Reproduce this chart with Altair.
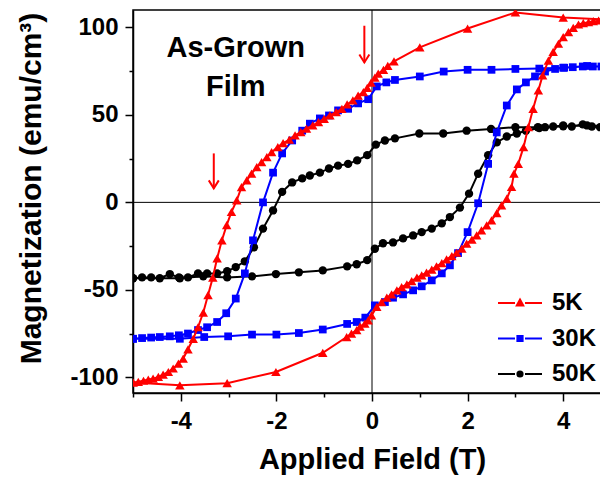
import altair as alt
import pandas as pd

# ---------------- data ----------------
series_labels = ["5K", "30K", "50K"]
series_colors = ["#ff0000", "#0000ff", "#000000"]
marker_shapes = ["triangle-up", "square", "circle"]
marker_sizes = [90, 60, 70]

# 5K (red) : branch from +5 T down to -5 T, then back up
x5_down = [5.0, 4.0, 3.0, 2.0, 1.0, 0.46, 0.33, 0.24, 0.13, 0.06, -0.02, -0.10, -0.18, -0.29,
           -0.40, -0.52, -0.63, -0.75, -0.88, -1.00, -1.12, -1.24, -1.37, -1.49, -1.61, -1.73,
           -1.86, -1.97, -2.10, -2.20, -2.31, -2.41, -2.52, -2.62, -2.73, -2.83, -2.94, -3.04,
           -3.14, -3.24, -3.33, -3.43, -3.53, -3.64, -3.74, -3.85, -3.95, -4.05, -4.16, -4.26,
           -4.37, -4.47, -4.58, -4.68, -4.78, -4.89, -5.0]
m5_down = [104.5, 105.7, 108.6, 99.4, 88.6, 80.6, 78.0, 75.8, 73.6, 71.3, 68.5, 65.5, 63.0, 61.1,
           58.3, 56.0, 53.5, 51.6, 49.7, 47.8, 45.9, 44.0, 42.1, 40.2, 38.3, 35.8,
           33.9, 31.6, 28.7, 25.9, 23.0, 20.2, 16.4, 12.6, 8.7, 1.1, -5.5, -13.0,
           -21.7, -32.0, -43.0, -53.0, -63.0, -71.4, -78.0, -84.0, -89.3, -92.2, -95.0, -97.0,
           -98.5, -99.8, -100.8, -101.3, -102.0, -102.6, -103.0]
x5_up = [-5.0, -4.02, -3.03, -2.01, -1.03, -0.53, -0.43, -0.32, -0.25, -0.15, -0.08, -0.01,
         0.10, 0.20, 0.31, 0.41, 0.52, 0.62, 0.73, 0.83, 0.94, 1.04, 1.14, 1.25, 1.35, 1.46,
         1.56, 1.67, 1.77, 1.88, 1.98, 2.09, 2.19, 2.29, 2.40, 2.50, 2.61, 2.71, 2.82, 2.92,
         2.97, 3.06, 3.17, 3.27, 3.37, 3.48, 3.57, 3.69, 3.79, 3.90, 4.00, 4.11, 4.21, 4.32,
         4.42, 4.53, 4.63, 4.74, 4.84, 5.0]
m5_up = [-103.0, -104.6, -103.4, -97.0, -86.0, -77.0, -75.0, -73.0, -71.0, -69.3, -67.5, -64.6,
         -59.8, -57.0, -54.5, -52.6, -50.3, -48.4, -46.9, -45.0, -43.0, -41.7, -40.2, -38.5, -36.6, -34.7,
         -32.6, -30.7, -28.8, -26.5, -23.6, -21.3, -18.9, -16.0, -13.1, -10.3, -6.1, -1.7, 2.1, 8.8,
         16.4, 22.0, 31.6, 43.0, 53.5, 64.0, 72.6, 81.0, 86.0, 90.7, 94.5, 97.3, 99.8, 101.7,
         102.5, 103.0, 103.6, 104.0, 104.4, 104.6]

# 30K (blue)
x30_down = [5.0, 4.5, 4.0, 3.5, 3.0, 2.5, 2.0, 1.5, 1.0, 0.48, 0.3, 0.1, -0.08, -0.29, -0.5,
            -0.71, -0.9, -1.09, -1.3, -1.46, -1.67, -1.88, -2.07, -2.28, -2.49, -2.66, -2.85,
            -3.05, -3.24, -3.45, -3.64, -3.85, -4.04, -4.23, -4.44, -4.62, -4.81, -5.0]
m30_down = [77.5, 78.0, 77.0, 76.5, 76.3, 75.8, 75.8, 74.8, 72.0, 70.0, 68.6, 66.3, 59.0, 56.6, 53.5,
            52.6, 49.7, 48.0, 45.0, 41.0, 35.4, 28.0, 17.0, 0.0, -21.7, -40.6, -55.0,
            -63.4, -68.4, -71.4, -73.0, -75.0, -76.0, -76.6, -77.0, -77.3, -77.6, -78.0]
x30_up = [-5.0, -4.02, -3.51, -3.01, -2.51, -2.0, -1.53, -1.03, -0.52, -0.32, -0.14, 0.06, 0.27,
          0.44, 0.65, 0.86, 1.04, 1.25, 1.46, 1.63, 1.8, 2.0, 2.22, 2.43, 2.61, 2.82, 3.03, 3.22,
          3.41, 3.62, 3.83, 4.02, 4.2, 4.41, 4.62, 4.8, 5.0]
m30_up = [-78.0, -78.0, -77.0, -76.6, -75.6, -75.6, -74.7, -72.7, -69.5, -68.4, -65.9, -58.9, -57.0,
          -54.5, -52.6, -50.3, -48.0, -44.6, -40.6, -36.0, -29.0, -17.0, -0.5, 22.0, 40.0, 55.4, 64.6, 68.6,
          72.0, 74.8, 76.3, 77.0, 77.3, 77.7, 77.7, 77.7, 77.7]

# 50K (black)
x50_down = [5.0, 4.77, 4.6, 4.41, 4.18, 4.0, 3.79, 3.62, 3.47, 3.0, 2.49, 1.98, 1.49, 0.99, 0.48,
            0.27, 0.08, -0.1, -0.31, -0.5, -0.71, -0.9, -1.09, -1.3, -1.46, -1.67, -1.88, -2.07,
            -2.28, -2.47, -2.66, -2.85, -3.03, -3.24, -3.45, -3.64, -3.85, -4.04, -4.23, -4.44,
            -4.62, -4.81, -5.0]
m50_down = [42.5, 43.0, 43.4, 44.6, 43.4, 44.0, 43.4, 43.0, 43.0, 43.0, 42.0, 41.0, 39.4, 39.4, 36.6,
            35.4, 33.0, 27.0, 24.0, 22.0, 21.0, 19.4, 17.0, 15.4, 13.7, 11.4, 6.0, -4.6,
            -15.0, -25.7, -33.7, -37.0, -39.4, -40.6, -40.6, -40.6, -42.9, -42.9, -41.0, -43.4,
            -42.9, -42.9, -43.4]
x50_up = [-5.0, -4.02, -3.53, -3.03, -2.51, -2.01, -1.53, -1.03, -0.52, -0.32, -0.1, 0.06, 0.23,
          0.44, 0.65, 0.86, 1.04, 1.25, 1.46, 1.63, 1.84, 2.03, 2.22, 2.43, 2.61, 2.82, 3.03, 3.22,
          3.5, 4.0, 4.5, 5.0]
m50_up = [-43.4, -43.4, -42.3, -42.9, -42.3, -41.0, -40.0, -38.9, -36.6, -35.4, -33.0, -26.5, -23.4,
          -22.9, -20.6, -18.9, -17.0, -15.0, -12.0, -8.4, -3.0, 5.0, 16.4, 27.0, 34.3, 37.7, 39.4, 41.0,
          42.5, 43.5, 44.0, 43.0]

# axes
x_ticks = [-5, -4, -3, -2, -1, 0, 1, 2, 3, 4, 5]
y_ticks = [-100, -75, -50, -25, 0, 25, 50, 75, 100]
x_domain = [-5, 5]
y_domain = [-109, 110]

# annotations
ann_text = ["As-Grown\nFilm"]
ann_x = [-2.85]
ann_y = [83]
arrow_x = [-3.31, -0.16]
arrow_from = [28, 101]
arrow_tip = [8, 80]

# ---------------- build tables ----------------
loops = {
    "5K": (x5_down + x5_up, m5_down + m5_up),
    "30K": (x30_down + x30_up, m30_down + m30_up),
    "50K": (x50_down + x50_up, m50_down + m50_up),
}
frames = {}
for lab, (xs, ms) in loops.items():
    frames[lab] = pd.DataFrame({"H": xs, "M": ms, "T": lab, "i": list(range(len(xs)))})

FONT = "Liberation Sans"
xscale = alt.Scale(domain=x_domain, nice=False, zero=False)
yscale = alt.Scale(domain=y_domain, nice=False, zero=False)

X_AXIS = alt.Axis(
    values=x_ticks, title="Applied Field (T)", grid=False,
    labelExpr="datum.value % 2 === 0 ? '' + datum.value : ''",
    tickSize={"condition": {"test": "datum.value % 2 === 0", "value": 8}, "value": 4},
    labelFlush=False, labelOverlap=False, labelPadding=8,
    titleFontSize=29,
    titleX=239, titleY=75, titleBaseline="alphabetic", titleAlign="center",
)
Y_AXIS = alt.Axis(
    values=y_ticks, title="Magnetization (emu/cm³)", grid=False,
    labelExpr="datum.value % 50 === 0 ? '' + datum.value : ''",
    tickSize={"condition": {"test": "datum.value % 50 === 0", "value": 8}, "value": 4},
    labelOverlap=False, labelPadding=7,
    titleFontSize=30,
    titleX=-93, titleY=178, titleBaseline="alphabetic", titleAlign="center", titleAngle=270,
)

def X(field):
    return alt.X(field, type="quantitative", scale=xscale, axis=X_AXIS)

def Y(field):
    return alt.Y(field, type="quantitative", scale=yscale, axis=Y_AXIS)

legend_paths = [
    "M-2.2,0H-0.5M0.5,0H2.2M0,-0.34L0.32,0.24L-0.32,0.24Z",
    "M-2.2,0H-0.5M0.5,0H2.2M-0.26,-0.26H0.26V0.26H-0.26Z",
    "M-2.2,0H-0.5M0.5,0H2.2M0.26,0A0.26,0.26,0,1,1,-0.26,0A0.26,0.26,0,1,1,0.26,0Z",
]
shape_expr = ("[" + ",".join("'%s'" % p for p in legend_paths) + "][indexof(["
              + ",".join("'%s'" % s for s in series_labels) + "], datum.value)]")

LEGEND = alt.Legend(
    title=None, orient="none", legendX=375, legendY=281, padding=0,
    symbolSize=400, labelOffset=20, rowPadding=11.5,
    labelFont=FONT, labelFontSize=24, labelFontWeight="bold", labelColor="black",
    symbolType=alt.ExprRef(expr=shape_expr),
    symbolStrokeColor=alt.ExprRef(expr="scale('color', datum.value)"),
    symbolStrokeWidth=2, symbolOpacity=1,
)
COLOR = alt.Color("T:N", scale=alt.Scale(domain=series_labels, range=series_colors), legend=LEGEND)

layers = []
# zero lines
layers.append(alt.Chart(pd.DataFrame({"v": [0]})).mark_rule(color="black", strokeWidth=1).encode(x=X("v")))
layers.append(alt.Chart(pd.DataFrame({"v": [0]})).mark_rule(color="black", strokeWidth=1).encode(y=Y("v")))

for idx in [2, 1, 0]:
    lab = series_labels[idx]
    df = frames[lab]
    layers.append(
        alt.Chart(df).mark_line(strokeWidth=2, clip=True, color=series_colors[idx]).encode(
            x=X("H"), y=Y("M"), order=alt.Order("i:Q"))
    )
    layers.append(
        alt.Chart(df).mark_point(shape=marker_shapes[idx], size=marker_sizes[idx], filled=True,
                                 opacity=1, clip=True).encode(
            x=X("H"), y=Y("M"), color=COLOR)
    )

arrows = pd.DataFrame({"x": arrow_x, "y0": arrow_from, "y1": arrow_tip})
layers.append(alt.Chart(arrows).mark_rule(color="#ff0000", strokeWidth=2).encode(
    x=X("x"), y=Y("y0"), y2="y1"))
layers.append(alt.Chart(arrows).mark_point(shape="M-1,-1.6L0,0L1,-1.6", size=100, filled=False,
                                           color="#ff0000", strokeWidth=2, opacity=1).encode(
    x=X("x"), y=Y("y1")))

ann = pd.DataFrame({"t": ann_text, "x": ann_x, "y": ann_y})
layers.append(alt.Chart(ann).mark_text(font=FONT, fontSize=29, fontWeight="bold", color="black",
                                       align="center", baseline="alphabetic", lineBreak="\n",
                                       lineHeight=39).encode(
    x=X("x"), y=Y("y"), text="t:N"))

chart = alt.layer(*layers).properties(
    width=478, height=383,
    autosize=alt.AutoSizeParams(type="none"),
    padding={"left": 125, "top": 2, "right": -11, "bottom": 82},
).configure_view(
    stroke="black", strokeWidth=1.5
).configure_axis(
    labelFont=FONT, labelFontSize=24, labelFontWeight="bold", labelColor="black",
    titleFont=FONT, titleFontSize=28, titleFontWeight="bold", titleColor="black",
    domainColor="black", domainWidth=1.5, tickColor="black", tickWidth=1.5,
)

chart.save("out.html", embed_options={"renderer": "svg", "actions": False})
